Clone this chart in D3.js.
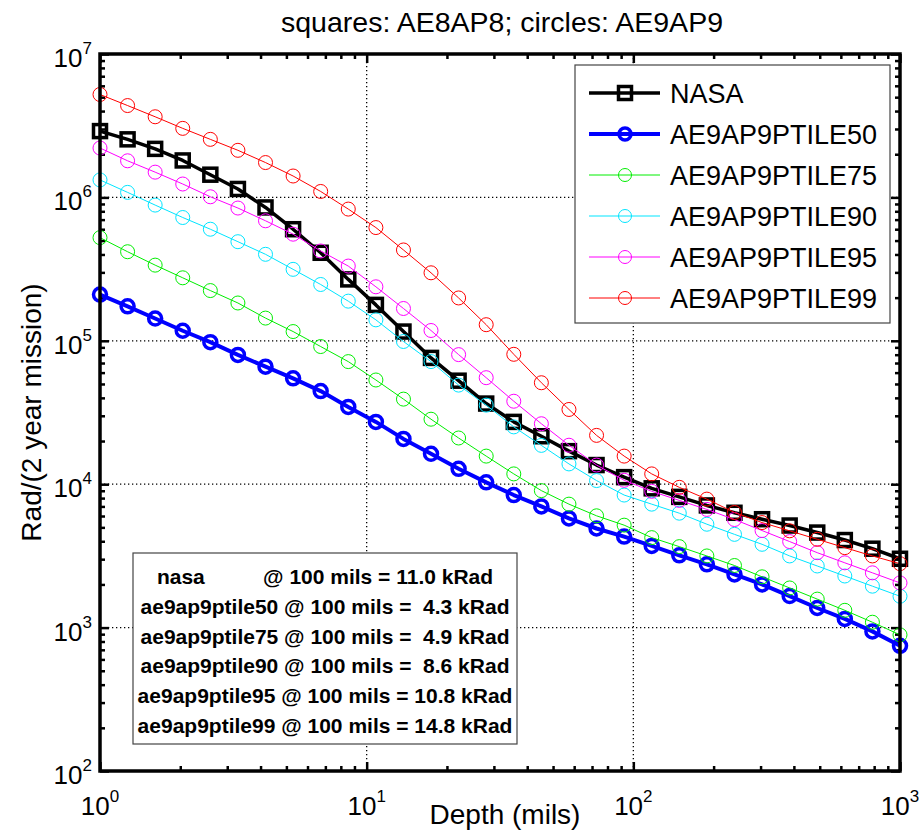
<!DOCTYPE html>
<html>
<head>
<meta charset="utf-8">
<script src="https://cdn.jsdelivr.net/npm/d3@7"></script>
<style>
  body { margin: 0; background: #fff; }
  svg { display: block; font-family: "Liberation Sans", Arial, Helvetica, sans-serif; }
</style>
</head>
<body>
<div id="chart"></div>
<script>
// depth points (mils), log spaced 1..1000
const depth = [1.000, 1.269, 1.610, 2.043, 2.593, 3.290, 4.175, 5.298, 6.723, 8.532,
               10.83, 13.74, 17.43, 22.12, 28.07, 35.62, 45.20, 57.36, 72.79, 92.37,
               117.2, 148.7, 188.7, 239.5, 303.9, 385.7, 489.4, 621.0, 788.0, 1000];

const nasa = [2.90e6, 2.54e6, 2.18e6, 1.81e6, 1.44e6, 1.145e6, 8.51e5, 6.00e5, 4.11e5, 2.68e5,
              1.78e5, 1.16e5, 7.60e4, 5.27e4, 3.65e4, 2.72e4, 2.16e4, 1.70e4, 1.36e4, 1.12e4,
              9.36e3, 8.16e3, 7.11e3, 6.32e3, 5.70e3, 5.15e3, 4.60e3, 4.08e3, 3.55e3, 3.02e3];
const ptile50 = [2.10e5, 1.74e5, 1.43e5, 1.175e5, 9.78e4, 7.97e4, 6.60e4, 5.47e4, 4.46e4, 3.46e4,
                 2.72e4, 2.07e4, 1.63e4, 1.28e4, 1.03e4, 8.40e3, 7.00e3, 5.77e3, 4.91e3, 4.31e3,
                 3.71e3, 3.19e3, 2.76e3, 2.35e3, 2.00e3, 1.66e3, 1.37e3, 1.15e3, 941, 746];
const ptile75 = [5.24e5, 4.18e5, 3.37e5, 2.75e5, 2.24e5, 1.835e5, 1.44e5, 1.16e5, 9.12e4, 7.16e4,
                 5.33e4, 3.92e4, 2.84e4, 2.10e4, 1.57e4, 1.18e4, 9.02e3, 7.26e3, 6.02e3, 5.18e3,
                 4.24e3, 3.67e3, 3.16e3, 2.71e3, 2.26e3, 1.89e3, 1.58e3, 1.32e3, 1.09e3, 890];
const ptile90 = [1.324e6, 1.084e6, 8.84e5, 7.24e5, 6.00e5, 4.91e5, 4.01e5, 3.15e5, 2.47e5, 1.89e5,
                 1.40e5, 9.89e4, 7.16e4, 4.91e4, 3.56e4, 2.51e4, 1.865e4, 1.385e4, 1.06e4, 8.40e3,
                 7.26e3, 6.28e3, 5.26e3, 4.47e3, 3.81e3, 3.16e3, 2.69e3, 2.29e3, 1.945e3, 1.655e3];
const ptile95 = [2.21e6, 1.80e6, 1.50e6, 1.24e6, 1.01e6, 8.43e5, 6.87e5, 5.54e5, 4.23e5, 3.32e5,
                 2.38e5, 1.68e5, 1.18e5, 8.01e4, 5.53e4, 3.79e4, 2.64e4, 1.87e4, 1.36e4, 1.065e4,
                 8.92e3, 7.71e3, 6.67e3, 5.67e3, 4.75e3, 3.98e3, 3.33e3, 2.83e3, 2.41e3, 2.05e3];
const ptile99 = [5.22e6, 4.37e6, 3.65e6, 3.03e6, 2.54e6, 2.13e6, 1.75e6, 1.41e6, 1.10e6, 8.29e5,
                 6.16e5, 4.30e5, 2.98e5, 1.99e5, 1.295e5, 8.05e4, 5.10e4, 3.32e4, 2.19e4, 1.57e4,
                 1.18e4, 9.51e3, 7.87e3, 6.35e3, 5.40e3, 4.73e3, 4.13e3, 3.61e3, 3.16e3, 2.79e3];

const seriesNames = ["NASA", "AE9AP9PTILE50", "AE9AP9PTILE75", "AE9AP9PTILE90", "AE9AP9PTILE95", "AE9AP9PTILE99"];

const xMajor = [1, 10, 100, 1000];
const yMajor = [1e2, 1e3, 1e4, 1e5, 1e6, 1e7];

const notes = [
    "nasa          @ 100 mils = 11.0 kRad",
    "ae9ap9ptile50 @ 100 mils =  4.3 kRad",
    "ae9ap9ptile75 @ 100 mils =  4.9 kRad",
    "ae9ap9ptile90 @ 100 mils =  8.6 kRad",
    "ae9ap9ptile95 @ 100 mils = 10.8 kRad",
    "ae9ap9ptile99 @ 100 mils = 14.8 kRad"
];

// styles per series (same order as names)
const styles = [
    {color: "#000000", lw: 3.5, marker: "square", size: 13, mlw: 3.5},
    {color: "#0000ff", lw: 4, marker: "circle", size: 6.5, mlw: 3.5},
    {color: "#00ee00", lw: 1, marker: "circle", size: 7, mlw: 1},
    {color: "#00e5ff", lw: 1, marker: "circle", size: 7, mlw: 1},
    {color: "#ff00ff", lw: 1, marker: "circle", size: 7, mlw: 1},
    {color: "#ff0000", lw: 1, marker: "circle", size: 7, mlw: 1}
];
const allSeries = [nasa, ptile50, ptile75, ptile90, ptile95, ptile99];

const W = 919, H = 830;
const margin = {top: 54, right: 19, bottom: 59, left: 100};
const width = W - margin.left - margin.right,
      height = H - margin.top - margin.bottom;

const svg = d3.select("#chart").append("svg")
    .attr("width", W)
    .attr("height", H);

const g = svg.append("g")
    .attr("transform", "translate(" + margin.left + "," + margin.top + ")");

const x = d3.scaleLog().domain([1, 1000]).range([0, width]);
const y = d3.scaleLog().domain([1e2, 1e7]).range([height, 0]);

// minor tick values (2..9 in each decade)
const xMinor = [];
xMajor.slice(0, -1).forEach(function(d) { for (let i = 2; i <= 9; i++) xMinor.push(d * i); });
const yMinor = [];
yMajor.slice(0, -1).forEach(function(d) { for (let i = 2; i <= 9; i++) yMinor.push(d * i); });

// grid (dotted, major only)
g.selectAll(".vgrid")
    .data(xMajor.slice(1, -1))
    .enter().append("line")
    .attr("x1", function(d) { return x(d); })
    .attr("x2", function(d) { return x(d); })
    .attr("y1", 0).attr("y2", height)
    .attr("stroke", "#000")
    .attr("stroke-width", 1.3)
    .attr("stroke-dasharray", "1.3,2.7");

g.selectAll(".hgrid")
    .data(yMajor.slice(1, -1))
    .enter().append("line")
    .attr("y1", function(d) { return y(d); })
    .attr("y2", function(d) { return y(d); })
    .attr("x1", 0).attr("x2", width)
    .attr("stroke", "#000")
    .attr("stroke-width", 1.3)
    .attr("stroke-dasharray", "1.3,2.7");

// ticks on all four sides, pointing inward
function tickAxis(axis, vals, len, transform) {
    const a = g.append("g")
        .attr("transform", transform)
        .call(axis.tickValues(vals).tickSize(len).tickFormat(""));
    a.select(".domain").remove();
    a.selectAll("line").attr("stroke", "#000").attr("stroke-width", 2.5);
}
tickAxis(d3.axisBottom(x), xMajor, -9, "translate(0," + height + ")");
tickAxis(d3.axisBottom(x), xMinor, -5, "translate(0," + height + ")");
tickAxis(d3.axisTop(x), xMajor, -9, "translate(0,0)");
tickAxis(d3.axisTop(x), xMinor, -5, "translate(0,0)");
tickAxis(d3.axisLeft(y), yMajor, -9, "translate(0,0)");
tickAxis(d3.axisLeft(y), yMinor, -5, "translate(0,0)");
tickAxis(d3.axisRight(y), yMajor, -9, "translate(" + width + ",0)");
tickAxis(d3.axisRight(y), yMinor, -5, "translate(" + width + ",0)");

// tick labels 10^n
xMajor.forEach(function(d) {
    const t = g.append("text")
        .attr("x", x(d))
        .attr("y", height + 44)
        .attr("text-anchor", "middle")
        .style("font-size", "26px");
    t.append("tspan").text("10");
    t.append("tspan").attr("dy", -13).style("font-size", "17px").text(Math.round(Math.log10(d)));
});
yMajor.forEach(function(d) {
    const t = g.append("text")
        .attr("x", -8)
        .attr("y", y(d) + 13)
        .attr("text-anchor", "end")
        .style("font-size", "26px");
    t.append("tspan").text("10");
    t.append("tspan").attr("dy", -13).style("font-size", "17px").text(Math.round(Math.log10(d)));
});

// lines + markers
const line = d3.line()
    .x(function(d) { return x(d[0]); })
    .y(function(d) { return y(d[1]); });

allSeries.forEach(function(vals, i) {
    const st = styles[i];
    const pts = depth.map(function(dp, j) { return [dp, vals[j]]; });
    g.append("path")
        .datum(pts)
        .attr("d", line)
        .attr("fill", "none")
        .attr("stroke", st.color)
        .attr("stroke-width", st.lw)
        .attr("stroke-linejoin", "round");
    if (st.marker === "square") {
        g.selectAll(".sq" + i)
            .data(pts)
            .enter().append("rect")
            .attr("x", function(d) { return x(d[0]) - st.size / 2; })
            .attr("y", function(d) { return y(d[1]) - st.size / 2; })
            .attr("width", st.size)
            .attr("height", st.size)
            .attr("fill", "none")
            .attr("stroke", st.color)
            .attr("stroke-width", st.mlw);
    } else {
        g.selectAll(".ci" + i)
            .data(pts)
            .enter().append("circle")
            .attr("cx", function(d) { return x(d[0]); })
            .attr("cy", function(d) { return y(d[1]); })
            .attr("r", st.size)
            .attr("fill", "none")
            .attr("stroke", st.color)
            .attr("stroke-width", st.mlw);
    }
});

// axes box
g.append("rect")
    .attr("x", 0).attr("y", 0)
    .attr("width", width).attr("height", height)
    .attr("fill", "none")
    .attr("stroke", "#000")
    .attr("stroke-width", 3.5);

// legend
const leg = g.append("g").attr("transform", "translate(" + (475) + "," + (11) + ")");
leg.append("rect")
    .attr("width", 315).attr("height", 258)
    .attr("fill", "#fff")
    .attr("stroke", "#444")
    .attr("stroke-width", 1.2);
seriesNames.forEach(function(name, i) {
    const st = styles[i];
    const ly = 28 + i * 41;
    leg.append("line")
        .attr("x1", 14).attr("x2", 85)
        .attr("y1", ly).attr("y2", ly)
        .attr("stroke", st.color)
        .attr("stroke-width", st.lw);
    if (st.marker === "square") {
        leg.append("rect")
            .attr("x", 50 - st.size / 2).attr("y", ly - st.size / 2)
            .attr("width", st.size).attr("height", st.size)
            .attr("fill", "none").attr("stroke", st.color).attr("stroke-width", st.mlw);
    } else {
        leg.append("circle")
            .attr("cx", 50).attr("cy", ly).attr("r", st.size - (i > 0 ? 0.5 : 0))
            .attr("fill", "none").attr("stroke", st.color).attr("stroke-width", st.mlw);
    }
    leg.append("text")
        .attr("x", 95)
        .attr("y", ly + 10)
        .style("font-size", "27px")
        .text(name);
});

// notes box
const nb = g.append("g").attr("transform", "translate(" + 33 + "," + 499 + ")");
nb.append("rect")
    .attr("width", 384).attr("height", 191)
    .attr("fill", "#fff")
    .attr("stroke", "#444")
    .attr("stroke-width", 1.2);
notes.forEach(function(s, i) {
    nb.append("text")
        .attr("x", 192)
        .attr("y", 31 + i * 29.8)
        .attr("text-anchor", "middle")
        .style("font-size", "21px")
        .style("font-weight", "bold")
        .style("white-space", "pre")
        .text(s);
});

// title and axis labels
svg.append("text")
    .attr("x", margin.left + width / 2 + 2)
    .attr("y", 32)
    .attr("text-anchor", "middle")
    .style("font-size", "28.5px")
    .text("squares: AE8AP8; circles: AE9AP9");

svg.append("text")
    .attr("x", margin.left + width / 2 + 5)
    .attr("y", 824)
    .attr("text-anchor", "middle")
    .style("font-size", "28px")
    .text("Depth (mils)");

svg.append("text")
    .attr("transform", "translate(41," + (margin.top + height / 2) + ") rotate(-90)")
    .attr("text-anchor", "middle")
    .style("font-size", "28px")
    .text("Rad/(2 year mission)");
</script>
</body>
</html>
